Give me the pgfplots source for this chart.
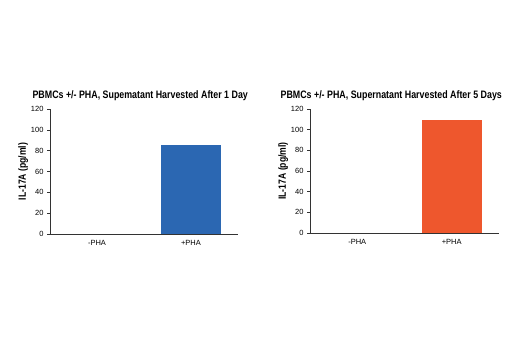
\documentclass[border=0pt]{standalone}
\usepackage{fontspec}
\setmainfont{Liberation Sans}
\newfontfamily\condb[FakeStretch=0.82]{Liberation Sans}
\usepackage{pgfplots}
\pgfplotsset{compat=1.18}
\definecolor{barblue}{RGB}{43,103,178}
\definecolor{barorange}{RGB}{238,87,45}
\pgfplotsset{
  panel/.style={
    scale only axis,
    anchor=south west,
    axis lines=left,
    axis line style={-, black!80, line width=0.5pt},
    ymin=0, ymax=120,
    ytick={0,20,...,120},
    xmin=-0.5, xmax=1.5,
    xtick={0,1},
    xticklabels={-PHA,+PHA},
    x tick style={draw=none},
    y tick style={black!80, line width=0.5pt},
    tick align=outside,
    major tick length=3pt,
    tick label style={font=\fontsize{7.5}{8}\selectfont},
    /pgf/number format/assume math mode=true,
    ylabel={IL-17A (pg/ml)},
    ylabel style={font=\condb\bfseries\fontsize{10.5}{11}\selectfont, yshift=-4pt},
    title style={font=\condb\bfseries\fontsize{10.8}{12}\selectfont, anchor=center},
    ybar, bar width=0.64, bar shift=0pt,
    enlargelimits=false,
    clip=false,
  }
}
\begin{document}
\begin{tikzpicture}
\useasboundingbox (0,0) rectangle (520pt,350pt);
\begin{axis}[panel,
  at={(50pt,116pt)}, width=188pt, height=125pt,
  title={PBMCs +/- PHA, Supematant Harvested After 1 Day},
  title style={at={(0.48,1)}, yshift=7pt},
]
\addplot[fill=none, draw=none] coordinates {(0,0)};
\addplot[fill=barblue, draw=none] coordinates {(1,85)};
\end{axis}
\begin{axis}[panel,
  at={(310pt,117pt)}, width=189pt, height=124pt,
  title={PBMCs +/- PHA, Supernatant Harvested After 5 Days},
  title style={at={(0.43,1)}, yshift=7pt},
]
\addplot[fill=none, draw=none] coordinates {(0,0)};
\addplot[fill=barorange, draw=none] coordinates {(1,109)};
\end{axis}
\end{tikzpicture}
\end{document}
